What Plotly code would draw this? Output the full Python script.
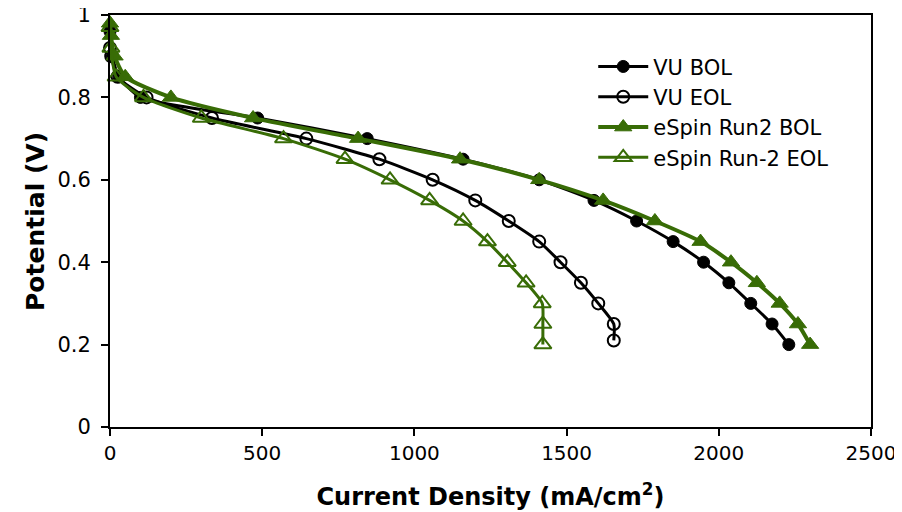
import plotly.graph_objects as go

# Current density (mA/cm^2) and potential (V)
vu_bol_x = [0, 8, 30, 100, 485, 845, 1160, 1410, 1590, 1730, 1850, 1950, 2033, 2105, 2175, 2230]
vu_bol_y = [0.96, 0.90, 0.85, 0.80, 0.75, 0.70, 0.65, 0.60, 0.55, 0.50, 0.45, 0.40, 0.35, 0.30, 0.25, 0.20]

vu_eol_x = [0, 4, 25, 120, 335, 645, 885, 1060, 1200, 1310, 1410, 1480, 1547, 1604, 1655, 1655]
vu_eol_y = [0.92, 0.90, 0.85, 0.80, 0.75, 0.70, 0.65, 0.60, 0.55, 0.50, 0.45, 0.40, 0.35, 0.30, 0.25, 0.21]

es_bol_x = [0, 3, 15, 50, 200, 470, 815, 1150, 1410, 1620, 1790, 1940, 2040, 2125, 2200, 2260, 2300]
es_bol_y = [0.98, 0.95, 0.90, 0.85, 0.80, 0.75, 0.70, 0.65, 0.60, 0.55, 0.50, 0.45, 0.40, 0.35, 0.30, 0.25, 0.20]

es_eol_x = [0, 3, 20, 110, 300, 570, 772, 920, 1050, 1160, 1240, 1305, 1367, 1420, 1422, 1422]
es_eol_y = [0.97, 0.92, 0.85, 0.80, 0.75, 0.70, 0.65, 0.60, 0.55, 0.50, 0.45, 0.40, 0.35, 0.30, 0.25, 0.20]

x_title = "<b>Current Density (mA/cm<sup>2</sup>)</b>"
y_title = "<b>Potential (V)</b>"

GREEN = "#386C06"
BLACK = "#000000"

fig = go.Figure()
fig.add_trace(go.Scatter(x=vu_bol_x, y=vu_bol_y, name="VU BOL", mode="lines+markers",
                         line=dict(color=BLACK, width=3, shape="spline", smoothing=0.6),
                         marker=dict(symbol="circle", size=12, color=BLACK, line=dict(color=BLACK, width=1))))
fig.add_trace(go.Scatter(x=vu_eol_x, y=vu_eol_y, name="VU EOL", mode="lines+markers",
                         line=dict(color=BLACK, width=3, shape="spline", smoothing=0.6),
                         marker=dict(symbol="circle-open", size=12, color=BLACK, line=dict(color=BLACK, width=2))))
fig.add_trace(go.Scatter(x=es_bol_x, y=es_bol_y, name="eSpin Run2 BOL", mode="lines+markers",
                         line=dict(color=GREEN, width=4, shape="spline", smoothing=0.6),
                         marker=dict(symbol="triangle-up", size=15, color=GREEN, line=dict(color=GREEN, width=1))))
fig.add_trace(go.Scatter(x=es_eol_x, y=es_eol_y, name="eSpin Run-2 EOL", mode="lines+markers",
                         line=dict(color=GREEN, width=3, shape="spline", smoothing=0.6),
                         marker=dict(symbol="triangle-up-open", size=15, color=GREEN, line=dict(color=GREEN, width=2))))

fig.update_traces(cliponaxis=False)

fig.update_layout(
    width=902, height=512,
    paper_bgcolor="white", plot_bgcolor="white",
    margin=dict(l=102, r=39, t=7, b=93, autoexpand=False),
    font=dict(family="DejaVu Sans", size=18, color="black"),
    showlegend=True,
    legend=dict(x=0.635, y=0.924, xanchor="left", yanchor="top",
                font=dict(size=21, family="DejaVu Sans", color="black"),
                bgcolor="rgba(0,0,0,0)", tracegroupgap=0, itemwidth=50),
)
fig.add_annotation(text=y_title, xref="paper", yref="paper", x=-0.0986, y=0.50,
                   xanchor="center", yanchor="middle", textangle=-90, showarrow=False,
                   font=dict(size=25, family="DejaVu Sans", color="black"))
fig.update_xaxes(range=[0, 2500], dtick=500, tick0=0, showgrid=False, zeroline=False,
                 automargin=False, ticklabeloverflow="allow",
                 showline=True, linecolor="black", linewidth=2, mirror=True,
                 ticks="outside", ticklen=7, tickwidth=2, tickcolor="black",
                 tickfont=dict(size=20, family="DejaVu Sans"),
                 title=dict(text=x_title, font=dict(size=24, family="DejaVu Sans"), standoff=24))
fig.update_yaxes(range=[0, 1], dtick=0.2, tick0=0, showgrid=False, zeroline=False,
                 automargin=False, ticklabeloverflow="allow",
                 showline=True, linecolor="black", linewidth=2, mirror=True,
                 ticks="outside", ticklen=7, tickwidth=2, tickcolor="black",
                 ticklabelstandoff=6,
                 tickfont=dict(size=21, family="DejaVu Sans"))

fig.write_html("out.html")
